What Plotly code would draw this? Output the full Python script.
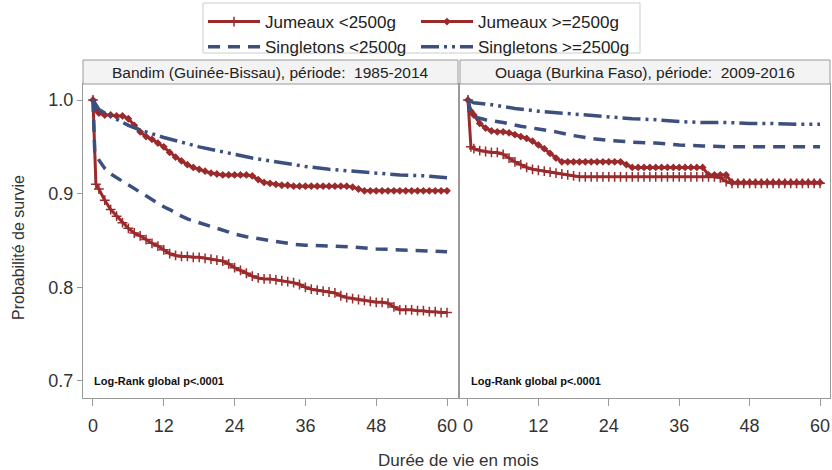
import plotly.graph_objects as go

# ---------------- data ----------------
red_months = [0, 0.5] + list(range(1, 61))

bandim_jum_lt = [1.0, 0.910, 0.905, 0.893, 0.883, 0.876, 0.869, 0.863, 0.858, 0.855,
                 0.851, 0.847, 0.844, 0.840, 0.836, 0.834, 0.833, 0.833, 0.832, 0.832,
                 0.831, 0.830, 0.829, 0.828, 0.825, 0.821, 0.818, 0.815, 0.812, 0.810,
                 0.809, 0.809, 0.808, 0.807, 0.806, 0.805, 0.803, 0.800, 0.798, 0.797,
                 0.796, 0.795, 0.794, 0.791, 0.789, 0.788, 0.787, 0.786, 0.785, 0.784,
                 0.784, 0.783, 0.779, 0.776, 0.776, 0.776, 0.775, 0.775, 0.774, 0.774,
                 0.773, 0.773]
bandim_jum_ge = [1.0, 0.990, 0.986, 0.984, 0.984, 0.983, 0.983, 0.980, 0.973, 0.966,
                 0.961, 0.958, 0.954, 0.950, 0.944, 0.939, 0.935, 0.931, 0.928, 0.926,
                 0.924, 0.922, 0.921, 0.920, 0.920, 0.920, 0.920, 0.920, 0.919, 0.915,
                 0.912, 0.911, 0.910, 0.909, 0.909, 0.908, 0.908, 0.908, 0.908, 0.908,
                 0.908, 0.908, 0.908, 0.908, 0.908, 0.907, 0.905, 0.903, 0.903, 0.903,
                 0.903, 0.903, 0.903, 0.903, 0.903, 0.903, 0.903, 0.903, 0.903, 0.903,
                 0.903, 0.903]
bandim_sing_lt_t = [0, 0.3, 1, 2, 3, 4, 5, 6, 7, 8, 9, 10, 11, 12, 13, 14, 15, 16, 17, 18,
                    19, 20, 21, 22, 23, 24, 26, 28, 30, 32, 34, 36, 40, 44, 48, 52, 56, 60]
bandim_sing_lt = [1.0, 0.945, 0.936, 0.927, 0.921, 0.917, 0.913, 0.909, 0.905, 0.901,
                  0.898, 0.894, 0.890, 0.886, 0.883, 0.879, 0.876, 0.873, 0.871, 0.869,
                  0.867, 0.865, 0.863, 0.861, 0.859, 0.857, 0.854, 0.852, 0.850, 0.848,
                  0.846, 0.845, 0.844, 0.843, 0.841, 0.840, 0.839, 0.838]
bandim_sing_ge_t = [0, 1, 2, 4, 6, 8, 10, 12, 15, 18, 21, 24, 27, 30, 33, 36, 40, 44, 48, 52, 56, 60]
bandim_sing_ge = [1.0, 0.990, 0.986, 0.979, 0.973, 0.968, 0.964, 0.960, 0.955, 0.950, 0.946,
                  0.942, 0.938, 0.935, 0.932, 0.929, 0.926, 0.924, 0.922, 0.920, 0.919, 0.917]

ouaga_jum_lt = [1.0, 0.950, 0.948, 0.946, 0.945, 0.944, 0.944, 0.942, 0.938, 0.934,
                0.931, 0.928, 0.926, 0.925, 0.924, 0.923, 0.922, 0.921, 0.920, 0.919,
                0.918, 0.918, 0.918, 0.918, 0.918, 0.918, 0.918, 0.918, 0.918, 0.918,
                0.918, 0.918, 0.918, 0.918, 0.918, 0.918, 0.918, 0.918, 0.918, 0.918,
                0.918, 0.918, 0.918, 0.918, 0.917, 0.913, 0.911, 0.911, 0.911, 0.911,
                0.911, 0.911, 0.911, 0.911, 0.911, 0.911, 0.911, 0.911, 0.911, 0.911,
                0.911, 0.911]
ouaga_jum_ge = [1.0, 0.988, 0.984, 0.975, 0.970, 0.967, 0.966, 0.966, 0.965, 0.963,
                0.961, 0.959, 0.956, 0.952, 0.948, 0.943, 0.938, 0.934, 0.934, 0.934,
                0.934, 0.934, 0.934, 0.934, 0.934, 0.934, 0.934, 0.934, 0.931, 0.928,
                0.928, 0.928, 0.928, 0.928, 0.928, 0.928, 0.928, 0.928, 0.928, 0.928,
                0.928, 0.928, 0.920, 0.920, 0.920, 0.920, 0.912, 0.912, 0.912, 0.912,
                0.912, 0.912, 0.912, 0.912, 0.912, 0.912, 0.912, 0.912, 0.912, 0.912,
                0.912, 0.912]
ouaga_sing_lt_t = [0, 0.5, 1, 3, 6, 9, 12, 15, 18, 21, 24, 28, 32, 36, 40, 44, 50, 60]
ouaga_sing_lt = [1.0, 0.985, 0.982, 0.979, 0.976, 0.972, 0.969, 0.966, 0.962, 0.959,
                 0.957, 0.955, 0.954, 0.952, 0.951, 0.950, 0.950, 0.950]
ouaga_sing_ge_t = [0, 1, 4, 8, 12, 16, 20, 24, 28, 32, 36, 40, 44, 48, 52, 56, 60]
ouaga_sing_ge = [1.0, 0.997, 0.995, 0.991, 0.988, 0.986, 0.984, 0.982, 0.980, 0.979,
                 0.977, 0.976, 0.976, 0.975, 0.975, 0.974, 0.974]

series_names = ["Jumeaux <2500g", "Jumeaux >=2500g", "Singletons <2500g", "Singletons >=2500g"]
panel_titles = ["Bandim (Guinée-Bissau), période:  1985-2014",
                "Ouaga (Burkina Faso), période:  2009-2016"]
x_ticks = [0, 12, 24, 36, 48, 60]
y_ticks = [0.7, 0.8, 0.9, 1.0]
y_ticklabels = ["0.7", "0.8", "0.9", "1.0"]
annot_text = "Log-Rank global p<.0001"
x_title = "Durée de vie en mois"
y_title = "Probabilité de survie"

# ---------------- styling ----------------
RED = "#9a2a2c"
BLUE = "#3c4f7e"
FONT = "Liberation Sans, Arial, sans-serif"
W, H = 832, 470
ML, MR, MT, MB = 83, 2, 84, 72
PW = W - ML - MR
PH = H - MT - MB

panels = [
    dict(xa="x", ya="y",
         data=[(red_months, bandim_jum_lt), (red_months, bandim_jum_ge),
               (bandim_sing_lt_t, bandim_sing_lt), (bandim_sing_ge_t, bandim_sing_ge)]),
    dict(xa="x2", ya="y2",
         data=[(red_months, ouaga_jum_lt), (red_months, ouaga_jum_ge),
               (ouaga_sing_lt_t, ouaga_sing_lt), (ouaga_sing_ge_t, ouaga_sing_ge)]),
]

styles = [
    dict(mode="lines+markers", line=dict(color=RED, width=3),
         marker=dict(symbol="cross-thin", size=7, color=RED, line=dict(color=RED, width=1.5))),
    dict(mode="lines+markers", line=dict(color=RED, width=3),
         marker=dict(symbol="diamond", size=6, color=RED, line=dict(width=0))),
    dict(mode="lines", line=dict(color=BLUE, width=3.5, dash="12px,8px")),
    dict(mode="lines", line=dict(color=BLUE, width=3.5, dash="18px,5px,3px,5px,3px,5px")),
]
# legend column for each series: first column = "<2500g", second = ">=2500g"
legend_of = ["legend", "legend2", "legend", "legend2"]

fig = go.Figure()
for pi, p in enumerate(panels):
    for si, (tx, vy) in enumerate(p["data"]):
        fig.add_trace(go.Scatter(x=tx, y=vy, name=series_names[si], legendgroup=series_names[si],
                                 legend=legend_of[si], showlegend=(pi == 0),
                                 xaxis=p["xa"], yaxis=p["ya"], hoverinfo="skip", **styles[si]))

left_dom = [0, (458 - ML) / PW]
right_dom = [(460 - ML) / PW, 1]

axis_common = dict(showgrid=False, zeroline=False, showline=True, mirror=True,
                   linecolor="#9a9a9a", linewidth=1)
xcommon = dict(axis_common, tickvals=x_ticks, ticks="outside", ticklen=7, tickcolor="#9a9a9a",
               ticklabelstandoff=4,
               tickfont=dict(family=FONT, size=18, color="#333333"))

leg_common = dict(orientation="v", xanchor="left", y=1 + (MT - 4) / PH, yanchor="top",
                  borderwidth=0, bgcolor="rgba(0,0,0,0)", tracegroupgap=0, itemwidth=52,
                  font=dict(family=FONT, size=17, color="#222222"))

fig.update_layout(
    width=W, height=H,
    margin=dict(l=ML, r=MR, t=MT, b=MB),
    paper_bgcolor="white", plot_bgcolor="white",
    font=dict(family=FONT, color="#333333"),
    xaxis=dict(xcommon, domain=left_dom, range=[-1.69, 61.86], anchor="y"),
    xaxis2=dict(xcommon, domain=right_dom, range=[-1.36, 61.7], anchor="y2"),
    yaxis=dict(axis_common, domain=[0, 1], range=[0.6818, 1.0171], tickvals=y_ticks,
               ticktext=y_ticklabels, ticks="outside", ticklen=5, tickcolor="#9a9a9a",
               tickfont=dict(family=FONT, size=18, color="#333333"), anchor="x"),
    yaxis2=dict(axis_common, domain=[0, 1], range=[0.6818, 1.0171], showticklabels=False,
                anchor="x2"),
    legend=dict(leg_common, x=(203 - ML) / PW),
    legend2=dict(leg_common, x=(416 - ML) / PW),
)

# legend frame
fig.add_shape(type="rect", xref="paper", yref="paper",
              x0=(203 - ML) / PW, x1=(640 - ML) / PW,
              y0=1 + (MT - 53) / PH, y1=1 + (MT - 3) / PH,
              fillcolor="white", line=dict(color="#cccccc", width=1), layer="below")

strip_h = 24 / PH
for dom, title in zip([left_dom, right_dom], panel_titles):
    fig.add_shape(type="rect", xref="paper", yref="paper", x0=dom[0], x1=dom[1],
                  y0=1, y1=1 + strip_h, fillcolor="#f3f3f3", line=dict(color="#9a9a9a", width=1))
    fig.add_annotation(text=title, xref="paper", yref="paper", x=(dom[0] + dom[1]) / 2,
                       y=1 + strip_h / 2, showarrow=False, xanchor="center", yanchor="middle",
                       font=dict(family=FONT, size=15.5, color="#222222"))
    fig.add_annotation(text="<b>" + annot_text + "</b>", xref="paper", yref="paper",
                       x=dom[0] + 9 / PW, y=17 / PH, showarrow=False, xanchor="left",
                       yanchor="middle", font=dict(family=FONT, size=11, color="#111111"))

fig.add_annotation(text=x_title, xref="paper", yref="paper", x=(458 - ML) / PW,
                   y=-(460 - (MT + PH)) / PH, showarrow=False, xanchor="center", yanchor="middle",
                   font=dict(family=FONT, size=17, color="#333333"))
fig.add_annotation(text=y_title, xref="paper", yref="paper", x=(18 - ML) / PW,
                   y=(MT + PH - 248) / PH, showarrow=False, xanchor="center", yanchor="middle",
                   textangle=-90, font=dict(family=FONT, size=16, color="#333333"))

fig.write_html("out.html", config={"displayModeBar": False},
               post_script="document.body.style.margin='0px';document.body.style.padding='0px';")
